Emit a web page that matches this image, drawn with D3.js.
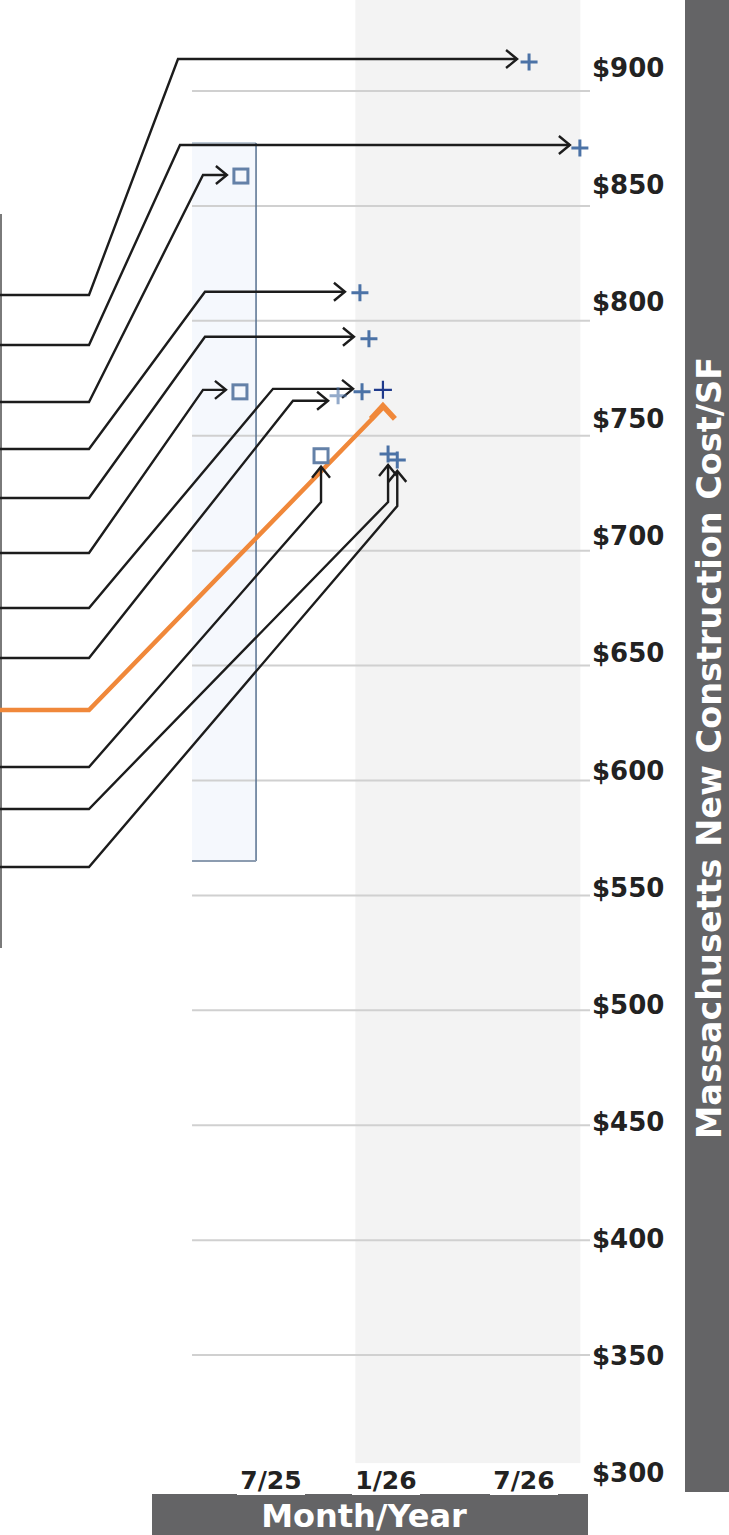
<!DOCTYPE html>
<html>
<head>
<meta charset="utf-8">
<script src="https://cdn.jsdelivr.net/npm/d3@7/dist/d3.min.js"></script>
<style>
  html, body { margin: 0; padding: 0; background: #fff; }
  svg { display: block; }
  text { font-family: "DejaVu Sans", sans-serif; font-weight: bold; }
</style>
</head>
<body>
<svg id="chart" width="729" height="1535"></svg>
<script>
// ---------------- data ----------------
const yTickValues = [300, 350, 400, 450, 500, 550, 600, 650, 700, 750, 800, 850, 900];
const gridValues  = [350, 400, 450, 500, 550, 600, 650, 700, 750, 800, 850, 900];
const xTickLabels = ["7/25", "1/26", "7/26"];
const xTickMonths = [0, 6, 12];            // months after 7/25

// points, in the order their leader lines leave the left edge
const pointMonths = [12.22, 14.43, -1.57, 4.64, 5.11, -1.62, 4.75, 3.50, 5.84, 2.61, 6.09, 6.49];
const pointValues = [912.6, 875.2, 863.0, 812.2, 792.2, 769.1, 769.1, 767.4, 770.0, 741.3, 742.1, 739.5];
const pointShapes = ["plus", "plus", "square", "plus", "plus", "square", "plus", "plusFaded", "highlight", "square", "plus", "plus"];
const leaderKinds = ["side", "side", "side", "side", "side", "side", "side", "side", "orange", "below", "below", "below"];

const shadeMonths = [4.4, 14.45];   // grey shaded period
const shadeValues = [303, 940];
const bandMonths  = [-4.12, -0.78]; // blue range box
const bandValues  = [565, 877.4];
const gridMonths  = [-4.12, 14.87];

const yTitle = "Massachusetts New Construction Cost/SF";
const xTitle = "Month/Year";

// ---------------- layout ----------------
const leaderLeftY = [295, 345, 402, 449, 498, 553, 608, 658, 710, 767, 809, 867];
const leaderKneeX = 89;
const sideElbowX  = [178, 180, 203, 205, 205, 203, 273, 293];
const sideDy      = [-3, -3, -1, -1, -2, -2, -3, 5];
const sideGap     = [12, 10, 14, 15, 15, 14, 9, 10];
const belowElbowY = [502, 502, 506];

const svg = d3.select("#chart");

const x = d3.scaleLinear().domain(xTickMonths).range([271, 386, 524]);
const yGrid = d3.scaleLinear().domain([300, 900]).range([1470, 91]);
const yLab  = d3.scaleLinear().domain([300, 900]).range([1482, 77]);

// grey shaded period
svg.append("rect")
  .attr("x", x(shadeMonths[0])).attr("y", yGrid(shadeValues[1]))
  .attr("width", x(shadeMonths[1]) - x(shadeMonths[0]))
  .attr("height", yGrid(shadeValues[0]) - yGrid(shadeValues[1]))
  .attr("fill", "#f3f3f3");

// blue range box
const bx0 = x(bandMonths[0]), bx1 = x(bandMonths[1]);
const by0 = yGrid(bandValues[1]), by1 = yGrid(bandValues[0]);
svg.append("rect")
  .attr("x", bx0).attr("y", by0).attr("width", bx1 - bx0).attr("height", by1 - by0)
  .attr("fill", "#f5f8fd");

// gridlines
svg.append("g").selectAll("line").data(gridValues).join("line")
  .attr("x1", x(gridMonths[0])).attr("x2", x(gridMonths[1]))
  .attr("y1", d => yGrid(d)).attr("y2", d => yGrid(d))
  .attr("stroke", "#d0d0d0").attr("stroke-width", 2);

// box edges
svg.append("line").attr("x1", bx0).attr("x2", bx1).attr("y1", by0).attr("y2", by0)
  .attr("stroke", "#a9b8c9").attr("stroke-width", 1.5);
svg.append("line").attr("x1", bx1).attr("x2", bx1).attr("y1", by0).attr("y2", by1)
  .attr("stroke", "#56708f").attr("stroke-width", 1.5);
svg.append("line").attr("x1", bx0).attr("x2", bx1).attr("y1", by1).attr("y2", by1)
  .attr("stroke", "#8c9cb0").attr("stroke-width", 2);

// left frame line
svg.append("line").attr("x1", 1).attr("x2", 1).attr("y1", 214).attr("y2", 948)
  .attr("stroke", "#7a7a7a").attr("stroke-width", 2);

// leader lines
const leaders = svg.append("g");
const ink = "#1c1c1c";
let si = 0, bi = 0;
pointMonths.forEach((m, i) => {
  const px = x(m), py = yGrid(pointValues[i]);
  const ly = leaderLeftY[i];
  const kind = leaderKinds[i];
  let d, head;
  if (kind === "side") {
    const yy = py + sideDy[si];
    const tip = px - sideGap[si];
    d = `M0,${ly}H${leaderKneeX}L${sideElbowX[si]},${yy}H${tip}`;
    head = `M${tip - 11},${yy - 9}L${tip},${yy}L${tip - 11},${yy + 9}`;
    si++;
    leaders.append("path").attr("d", d).attr("fill", "none").attr("stroke", ink).attr("stroke-width", 2.4);
    leaders.append("path").attr("d", head).attr("fill", "none").attr("stroke", ink).attr("stroke-width", 2.4);
  } else if (kind === "below") {
    const tip = py + 11;
    d = `M0,${ly}H${leaderKneeX}L${px},${belowElbowY[bi]}V${tip}`;
    head = `M${px - 9},${tip + 11}L${px},${tip}L${px + 9},${tip + 11}`;
    bi++;
    leaders.append("path").attr("d", d).attr("fill", "none").attr("stroke", ink).attr("stroke-width", 2.4);
    leaders.append("path").attr("d", head).attr("fill", "none").attr("stroke", ink).attr("stroke-width", 2.4);
  } else {
    const tip = py + 16;
    d = `M0,${ly}H${leaderKneeX}L${px},${tip + 2}`;
    head = `M${px - 12},${tip + 13}L${px},${tip}L${px + 12},${tip + 13}`;
    leaders.append("path").attr("d", d).attr("fill", "none").attr("stroke", "#f0883a").attr("stroke-width", 4.5);
    leaders.append("path").attr("d", head).attr("fill", "none").attr("stroke", "#f0883a").attr("stroke-width", 5.5);
  }
});

// markers
const marks = svg.append("g");
pointMonths.forEach((m, i) => {
  const px = x(m), py = yGrid(pointValues[i]);
  const s = pointShapes[i];
  if (s === "square") {
    marks.append("rect").attr("x", px - 7).attr("y", py - 7).attr("width", 14).attr("height", 14)
      .attr("fill", "none").attr("stroke", "#6481a8").attr("stroke-width", 3);
  } else if (s === "highlight") {
    marks.append("path").attr("d", `M${px - 9},${py}H${px + 9}M${px},${py - 9}V${py + 9}`)
      .attr("stroke", "#1f3a8c").attr("stroke-width", 2.2).attr("fill", "none");
  } else {
    marks.append("path").attr("d", `M${px - 8.5},${py}H${px + 8.5}M${px},${py - 8.5}V${py + 8.5}`)
      .attr("stroke", "#4b72a6").attr("stroke-width", 3).attr("fill", "none")
      .attr("opacity", s === "plusFaded" ? 0.6 : 1);
  }
});

// y-axis labels
svg.append("g").selectAll("text").data(yTickValues).join("text")
  .attr("x", 592).attr("y", d => yLab(d))
  .attr("font-size", 26).attr("fill", "#222")
  .text(d => "$" + d);

// bottom title bar
svg.append("rect").attr("x", 152).attr("y", 1494).attr("width", 436).attr("height", 41).attr("fill", "#646466");
svg.append("text").attr("x", 364).attr("y", 1527).attr("text-anchor", "middle")
  .attr("font-size", 32).attr("fill", "#fff").text(xTitle);

// x tick labels with white backing
const xt = svg.append("g").selectAll("g").data(xTickMonths).join("g");
xt.append("rect").attr("x", d => x(d) - 34).attr("y", 1467).attr("width", 68).attr("height", 28).attr("fill", "#fff");
xt.append("text").attr("x", d => x(d)).attr("y", 1489).attr("text-anchor", "middle")
  .attr("font-size", 25).attr("fill", "#222")
  .text((d, i) => xTickLabels[i]);

// right title bar
svg.append("rect").attr("x", 685).attr("y", 0).attr("width", 44).attr("height", 1492).attr("fill", "#646466");
svg.append("text")
  .attr("transform", "translate(721,748) rotate(-90)")
  .attr("text-anchor", "middle").attr("font-size", 33.5).attr("fill", "#fff")
  .text(yTitle);
</script>
</body>
</html>
